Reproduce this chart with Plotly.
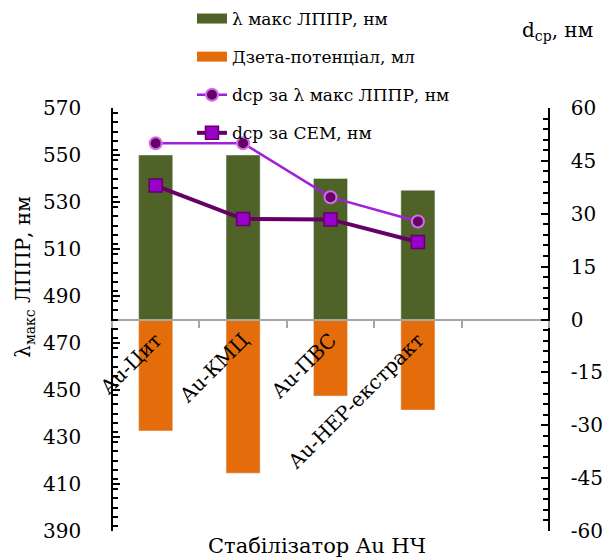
import plotly.graph_objects as go

categories = ["Au-Цит", "Au-КМЦ", "Au-ПВС", "Au-НЕР-екстракт"]
lambda_max = [550, 550, 540, 535]          # λ макс ЛППР, нм (left axis)
zeta = [-31.6, -43.6, -21.7, -25.7]        # Дзета-потенціал (right axis)
d_lambda = [50, 50, 34.7, 27.8]            # dcp за λ макс ЛППР, нм (right axis)
d_sem = [38, 28.5, 28.4, 22]               # dcp за СЕМ, нм (right axis)
right_ticks = [-60, -45, -30, -15, 0, 15, 30, 45, 60]
right_tick_text = ["-60", "-45", "-30", "-15", "0", "15", "30", "45", "60"]
base_left = 480

FONT = "DejaVu Serif"
cat_all = categories + [" "]
GREEN = "#4f6228"
ORANGE = "#e46c0a"

fig = go.Figure()
fig.add_trace(go.Bar(
    x=categories, y=[v - base_left for v in lambda_max], base=base_left,
    name="λ макс ЛППР, нм", marker_color=GREEN, width=0.39,
    showlegend=False, yaxis="y"))
fig.add_trace(go.Bar(
    x=categories, y=zeta, name="Дзета-потенціал, мл",
    marker_color=ORANGE, width=0.39, showlegend=False, yaxis="y2"))
fig.add_trace(go.Scatter(
    x=categories, y=d_lambda, name="dcp за λ макс ЛППР, нм",
    mode="lines+markers", line=dict(color="#a020d8", width=2.5),
    marker=dict(symbol="circle", size=12, color="#660066",
                line=dict(color="#d070e8", width=2)),
    legendgroup="g3", legendrank=3, yaxis="y2"))
fig.add_trace(go.Scatter(
    x=categories, y=d_sem, name="dcp за СЕМ, нм",
    mode="lines+markers", line=dict(color="#660066", width=4),
    marker=dict(symbol="square", size=13, color="#9900cc",
                line=dict(color="#660066", width=1.5)),
    legendgroup="g4", legendrank=4, yaxis="y2"))
# legend entries for bars (wide rectangle swatches)
fig.add_trace(go.Scatter(
    x=[None], y=[None], mode="lines", name="λ макс ЛППР, нм",
    line=dict(color=GREEN, width=11), legendgroup="g1", legendrank=1,
    yaxis="y"))
fig.add_trace(go.Scatter(
    x=[None], y=[None], mode="lines", name="Дзета-потенціал, мл",
    line=dict(color=ORANGE, width=11), legendgroup="g2", legendrank=2,
    yaxis="y"))

fig.update_layout(
    width=606, height=559,
    margin=dict(l=112, r=57, t=108, b=28, autoexpand=False),
    paper_bgcolor="white", plot_bgcolor="white",
    barmode="overlay",
    font=dict(family=FONT, size=18, color="black"),
    showlegend=True,
    legend=dict(x=0.183, y=1.253, xanchor="left", yanchor="top",
                bgcolor="rgba(0,0,0,0)", font=dict(size=17, family=FONT),
                tracegroupgap=13, traceorder="grouped", itemwidth=30),
    xaxis=dict(type="category", categoryorder="array", categoryarray=cat_all,
               range=[-0.5, 4.5], anchor="free", position=0.5,
               showline=True, linecolor="#a6a6a6", linewidth=2,
               ticks="outside", tickson="boundaries", ticklen=7,
               tickcolor="#a6a6a6", tickwidth=1.5, tickangle=-45,
               tickfont=dict(size=20, family=FONT), showgrid=False,
               zeroline=False, automargin=False),
    yaxis=dict(range=[390, 570], dtick=20, tick0=390, showgrid=False,
               anchor="free", position=0, side="left",
               zeroline=False, showline=True, linecolor="black",
               linewidth=1.5, ticks="inside", ticklen=7, tickwidth=2,
               tickcolor="black", tickfont=dict(size=20, family=FONT),
               ticklabelstandoff=26, automargin=False,
               minor=dict(dtick=4, ticks="inside", ticklen=5,
                          tickcolor="black", tickwidth=1.5)),
    yaxis2=dict(range=[-60, 60], tickmode="array", tickvals=right_ticks,
                ticktext=right_tick_text, overlaying="y",
                anchor="free", position=1, side="right",
                showgrid=False, zeroline=False,
                showline=True, linecolor="black", linewidth=1.5,
                ticks="inside", ticklen=7, tickwidth=2, tickcolor="black",
                tickfont=dict(size=20, family=FONT), ticklabelstandoff=17,
                automargin=False,
                minor=dict(dtick=3, tick0=0, ticks="inside", ticklen=5,
                           tickcolor="black", tickwidth=1.5)),
    annotations=[
        dict(text="Стабілізатор Au НЧ", xref="paper", yref="paper",
             x=0.47, y=-0.036, xanchor="center", yanchor="middle",
             showarrow=False, font=dict(size=21, family=FONT)),
        dict(text="λ<sub>макс</sub> ЛППР, нм", xref="paper", yref="paper",
             x=-0.2, y=0.6, xanchor="center", yanchor="middle",
             textangle=-90, showarrow=False, font=dict(size=20, family=FONT)),
        dict(text="d<sub>ср</sub>, нм", xref="paper", yref="paper",
             x=1.02, y=1.182, xanchor="center", yanchor="middle",
             showarrow=False, font=dict(size=20, family=FONT)),
    ],
)

fig.write_html("out.html")
